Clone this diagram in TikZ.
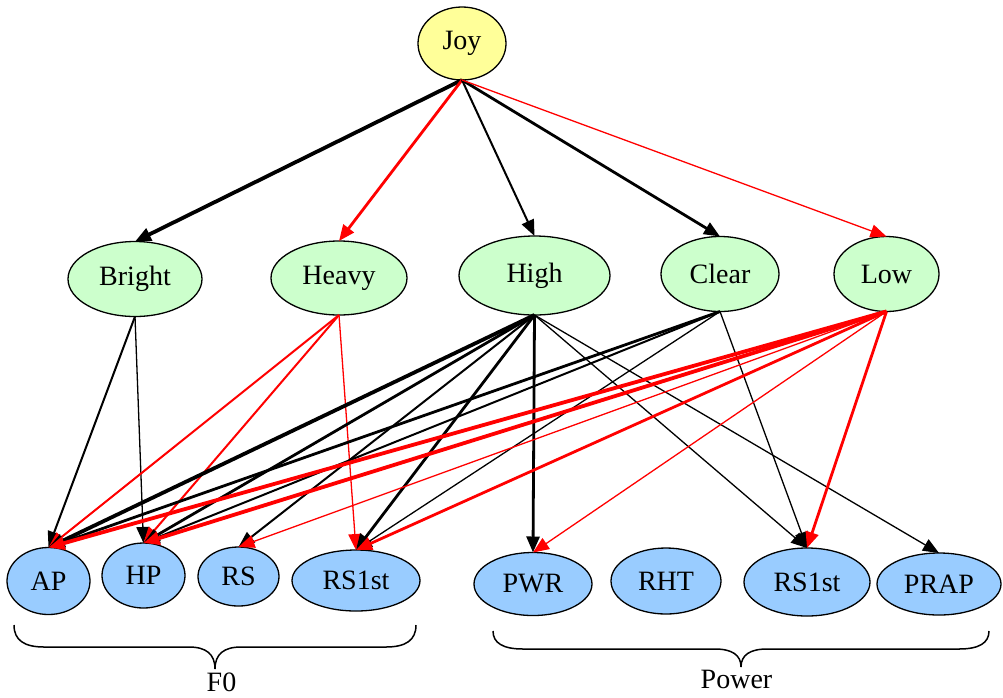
\documentclass[tikz,border=0pt]{standalone}
\usepackage{fontspec}
\setmainfont{Liberation Serif}
\usetikzlibrary{shapes.geometric,arrows.meta}
\definecolor{topc}{RGB}{255,255,153}
\definecolor{midc}{RGB}{204,255,204}
\definecolor{botc}{RGB}{153,204,255}
\definecolor{redc}{RGB}{255,0,0}
\begin{document}
\begin{tikzpicture}[x=1pt,y=-1pt,
  nd/.style={ellipse, draw=black, line width=1.3pt, inner sep=0pt, outer sep=0pt, font=\fontsize{28}{31}\selectfont},
  topn/.style={nd, fill=topc},
  midn/.style={nd, fill=midc},
  botn/.style={nd, fill=botc},
  bk/.style={draw=black, -{Triangle[length=16pt,width=13pt]}},
  rd/.style={draw=redc, -{Triangle[length=16pt,width=13pt,color=redc]}},
  w1/.style={line width=1.3pt},
  w2/.style={line width=2pt},
  w3/.style={line width=2.8pt},
  w4/.style={line width=3.8pt},
  brace/.style={draw=black, line width=1.5pt},
  lab/.style={font=\fontsize{28}{31}\selectfont, inner sep=0pt, anchor=base}
]
\useasboundingbox (0,0) rectangle (1003,697);
% nodes
\node[topn, minimum width=88pt, minimum height=73pt] (joy) at (462,43.5) {Joy};
\node[midn, minimum width=134pt, minimum height=75pt] (bright) at (135,279) {Bright};
\node[midn, minimum width=136pt, minimum height=74pt] (heavy) at (339,278) {Heavy};
\node[midn, minimum width=151pt, minimum height=79pt] (high) at (534.5,275.5) {High};
\node[midn, minimum width=118pt, minimum height=75pt] (clear) at (720,274) {Clear};
\node[midn, minimum width=105pt, minimum height=75pt] (low) at (886.5,274) {Low};
\node[botn, minimum width=83pt, minimum height=67pt] (ap) at (48.5,581) {AP};
\node[botn, minimum width=83pt, minimum height=65pt] (hp) at (143.5,575.5) {HP};
\node[botn, minimum width=81pt, minimum height=59pt] (rs) at (238.5,576.5) {RS};
\node[botn, minimum width=128pt, minimum height=61pt] (rsf) at (356,580.5) {RS1st};
\node[botn, minimum width=118pt, minimum height=63pt] (pwr) at (533,584) {PWR};
\node[botn, minimum width=110pt, minimum height=66pt] (rht) at (666,581) {RHT};
\node[botn, minimum width=126pt, minimum height=68pt] (rsp) at (807,582) {RS1st};
\node[botn, minimum width=124pt, minimum height=62pt] (prap) at (939,584) {PRAP};
% Joy edges
\draw[bk,w4] (joy.south) -- (bright.north);
\draw[rd,w3] (joy.south) -- (heavy.north);
\draw[bk,w2] (joy.south) -- (high.north);
\draw[bk,w3] (joy.south) -- (clear.north);
\draw[rd,w1] (joy.south) -- (low.north);
% Bright
\draw[bk,w2] (bright.south) -- (ap.north);
\draw[bk,w1] (bright.south) -- (hp.north);
% Heavy
\draw[rd,w2] (heavy.south) -- (ap.north);
\draw[rd,w2] (heavy.south) -- (hp.north);
\draw[rd,w1] (heavy.south) -- (rsf.north);
% High
\draw[bk,w4] (high.south) -- (ap.north);
\draw[bk,w3] (high.south) -- (hp.north);
\draw[bk,w2] (high.south) -- (rs.north);
\draw[bk,w3] (high.south) -- (rsf.north);
\draw[bk,w3] (high.south) -- (pwr.north);
\draw[bk,w1] (high.south) -- (rsp.north);
\draw[bk,w1] (high.south) -- (prap.north);
% Clear
\draw[bk,w3] (clear.south) -- (ap.north);
\draw[bk,w2] (clear.south) -- (hp.north);
\draw[bk,w1] (clear.south) -- (rsf.north);
\draw[bk,w1] (clear.south) -- (rsp.north);
% Low
\draw[rd,w4] (low.south) -- (ap.north);
\draw[rd,w4] (low.south) -- (hp.north);
\draw[rd,w1] (low.south) -- (rs.north);
\draw[rd,w3] (low.south) -- (rsf.north);
\draw[rd,w1] (low.south) -- (pwr.north);
\draw[rd,w3] (low.south) -- (rsp.north);
% braces
\coordinate (f0tip) at (215,669);
\coordinate (pwtip) at (741,667);
\draw[brace] (14,625) .. controls (14,640) and (24,647) .. (44,647) -- (189,647)
  .. controls (206,647) and (215,654) .. (f0tip)
  .. controls (215,654) and (224,647) .. (241,647) -- (386,647)
  .. controls (406,647) and (416,640) .. (416,625);
\draw[brace] (493,631) .. controls (493,643) and (503,649) .. (523,649) -- (715,649)
  .. controls (732,649) and (741,655) .. (pwtip)
  .. controls (741,655) and (750,649) .. (767,649) -- (959,649)
  .. controls (979,649) and (989,643) .. (989,631);
\node[lab] (f0) at (221.5,691) {F0};
\node[lab] (power) at (736.5,688) {Power};
\end{tikzpicture}
\end{document}
